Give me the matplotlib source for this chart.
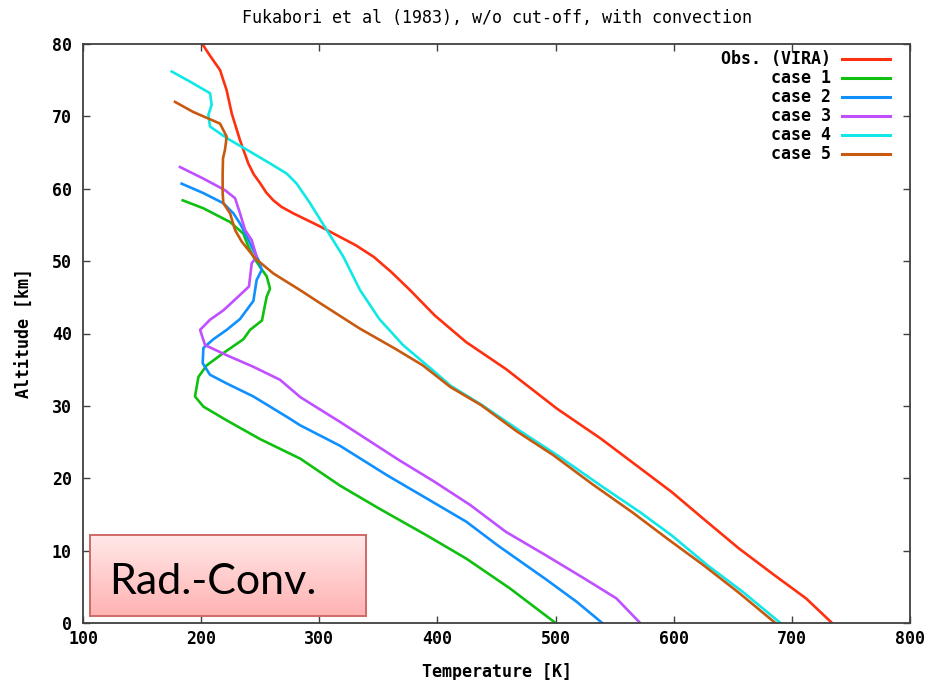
import numpy as np
import matplotlib
matplotlib.use("Agg")
from matplotlib import pyplot as plt

# temperature [K] / altitude [km] profiles
obs_T = [201, 207, 216, 221.6, 225.9, 232.9, 239.9, 244.5, 249.8, 255, 261.1, 268, 278, 300.6,
         330.8, 346, 360.9, 376.8, 397.7, 424.4, 457.9, 501.3, 538.1, 568.2, 598.3, 625.1,
         655.2, 685.3, 712, 734]
obs_z = [80, 78.5, 76.4, 73.6, 70.4, 66.7, 63.5, 62, 60.8, 59.5, 58.4, 57.5, 56.6, 54.8,
         52.2, 50.6, 48.5, 46, 42.5, 38.8, 35.1, 29.6, 25.5, 21.8, 18.1, 14.4,
         10.3, 6.6, 3.4, 0]

case1_T = [184.4, 201.9, 224.5, 235.7, 240, 244.2, 249.8, 255.5, 258.3, 255.5, 253.5, 251.5,
           241.4, 235.7, 218.8, 204.7, 197.7, 194.8, 201.9, 221.6, 250, 284, 317.4, 350.8,
           391, 424.4, 461.2, 500]
case1_z = [58.4, 57.3, 55.4, 53.8, 52, 50.6, 49.2, 47.9, 46.2, 45.1, 43.5, 41.8,
           40.5, 39.2, 37.3, 35.6, 34, 31.3, 29.9, 28, 25.4, 22.7, 19, 15.8,
           12.1, 8.9, 4.8, 0]

case2_T = [183.5, 201.9, 218.8, 227.3, 232.9, 238.6, 244.2, 248.4, 251.3, 247, 244.2, 232.9,
           221.6, 210.3, 201.9, 201.3, 207.5, 221.6, 244.2, 272.4, 284, 317.4, 357.5, 391,
           424.4, 451.2, 491.3, 518.1, 539.5]
case2_z = [60.7, 59.4, 58, 56.6, 55.2, 53.4, 51.5, 50.2, 48.8, 47.4, 44.5, 42,
           40.5, 39.2, 38, 35.9, 34.3, 33.1, 31.3, 28.5, 27.3, 24.5, 20.4, 17.2,
           14, 10.7, 6.1, 2.9, 0]

case3_T = [182.1, 201.9, 220.2, 228.7, 232.9, 237.2, 242.8, 247, 242.8, 240.5, 230.1, 218.8,
           207.5, 199.1, 203.3, 221.6, 244.2, 266.8, 284, 317.4, 367.6, 397.7, 427.8, 457.9,
           491.3, 524.8, 551.5, 571.6]
case3_z = [63, 61.4, 59.8, 58.7, 56.6, 54.3, 52.9, 50.6, 49.7, 46.5, 44.9, 43.2,
           41.9, 40.5, 38.4, 37, 35.4, 33.6, 31.2, 27.8, 22.5, 19.5, 16.3, 12.6,
           9.4, 6.1, 3.4, 0]

case4_T = [175.1, 190.6, 207.5, 208.9, 206.1, 207.5, 221.6, 238.6, 258.3, 272.4, 280.9, 292.2,
           306.3, 320.4, 334.5, 350.8, 370.9, 397.7, 411, 437.8, 471.2, 501.3, 538.1, 571.6,
           598.3, 628.4, 658.5, 690.3]
case4_z = [76.2, 74.8, 73.2, 71.6, 70.2, 68.6, 67, 65.4, 63.5, 62.1, 60.7, 58,
           54.3, 50.6, 46, 42, 38.4, 34.7, 32.8, 30.1, 26.4, 23.2, 19, 15.3,
           12.1, 8, 4.3, 0]

case5_T = [177.9, 193.4, 216, 221.6, 220.2, 218.5, 218.2, 218.2, 218.8, 224.5, 228.7, 234.3,
           245.6, 261.1, 283.7, 300.6, 334.1, 364.2, 387.6, 411, 437, 467, 498, 531,
           564.9, 595, 625.1, 655, 686]
case5_z = [72, 70.6, 69, 67.2, 65.4, 64.2, 62.1, 59.4, 58, 56.6, 54.3, 52.7,
           50.4, 48.3, 46, 44.2, 40.7, 37.9, 35.6, 32.6, 30.1, 26.5, 23.2, 19.2,
           15.3, 11.6, 8, 4.2, 0]

labels = ["Obs. (VIRA)", "case 1", "case 2", "case 3", "case 4", "case 5"]
colors = ["#ff3010", "#10c010", "#1090ff", "#c050ff", "#10e8e8", "#c85a10"]
series = [(obs_T, obs_z), (case1_T, case1_z), (case2_T, case2_z),
          (case3_T, case3_z), (case4_T, case4_z), (case5_T, case5_z)]

mono = "DejaVu Sans Mono"

fig = plt.figure(figsize=(9.31, 6.80), dpi=100)
ax = fig.add_axes([83 / 931, 1 - 623 / 680, 827 / 931, 579 / 680])

for (t, z), c in zip(series, colors):
    ax.plot(t, z, color=c, lw=1.9, solid_joinstyle="round")

ax.set_xlim(100, 800)
ax.set_ylim(0, 80)
ax.set_xticks(np.arange(100, 801, 100))
ax.set_yticks(np.arange(0, 81, 10))
ax.tick_params(direction="in", length=5, width=1, top=True, right=True, color="#404040")
ax.tick_params(axis="x", pad=5)
ax.tick_params(axis="y", pad=8)
for lab in ax.get_xticklabels() + ax.get_yticklabels():
    lab.set_fontfamily(mono)
    lab.set_fontweight("bold")
    lab.set_fontsize(12)
for s in ax.spines.values():
    s.set_color("#404040")
    s.set_linewidth(1.3)

ax.set_xlabel("Temperature [K]", fontfamily=mono, fontweight="bold", fontsize=12, labelpad=11)
ax.set_ylabel("Altitude [km]", fontfamily=mono, fontweight="bold", fontsize=12, labelpad=13)
ax.set_title("Fukabori et al (1983), w/o cut-off, with convection",
             fontfamily=mono, fontsize=12, pad=15)

# gnuplot-style key: right-aligned text followed by the line sample
for i, (lab, c) in enumerate(zip(labels, colors)):
    yk = 0.974 - i * 0.0328
    ax.text(0.9045, yk, lab, transform=ax.transAxes, ha="right", va="center",
            fontfamily=mono, fontweight="bold", fontsize=12)
    ax.plot([0.918, 0.976], [yk, yk], transform=ax.transAxes, color=c, lw=2.2)

# shaded annotation box
box = fig.add_axes([90 / 931, 1 - 616 / 680, 276 / 931, 81 / 680])
grad = np.linspace(0, 1, 100).reshape(-1, 1)
top = np.array([1.0, 0.91, 0.91])
bot = np.array([1.0, 0.70, 0.70])
img = top[None, None, :] * (1 - grad[:, :, None]) + bot[None, None, :] * grad[:, :, None]
box.imshow(img, aspect="auto", extent=[0, 1, 0, 1])
box.set_xlim(0, 1)
box.set_ylim(0, 1)
box.set_xticks([])
box.set_yticks([])
for s in box.spines.values():
    s.set_color("#d06868")
    s.set_linewidth(1.4)
box.text(0.07, 0.42, "Rad.-Conv.", transform=box.transAxes, ha="left", va="center",
         fontfamily="Lato", fontsize=31, color="black")

fig.savefig("out.png", dpi=100)
